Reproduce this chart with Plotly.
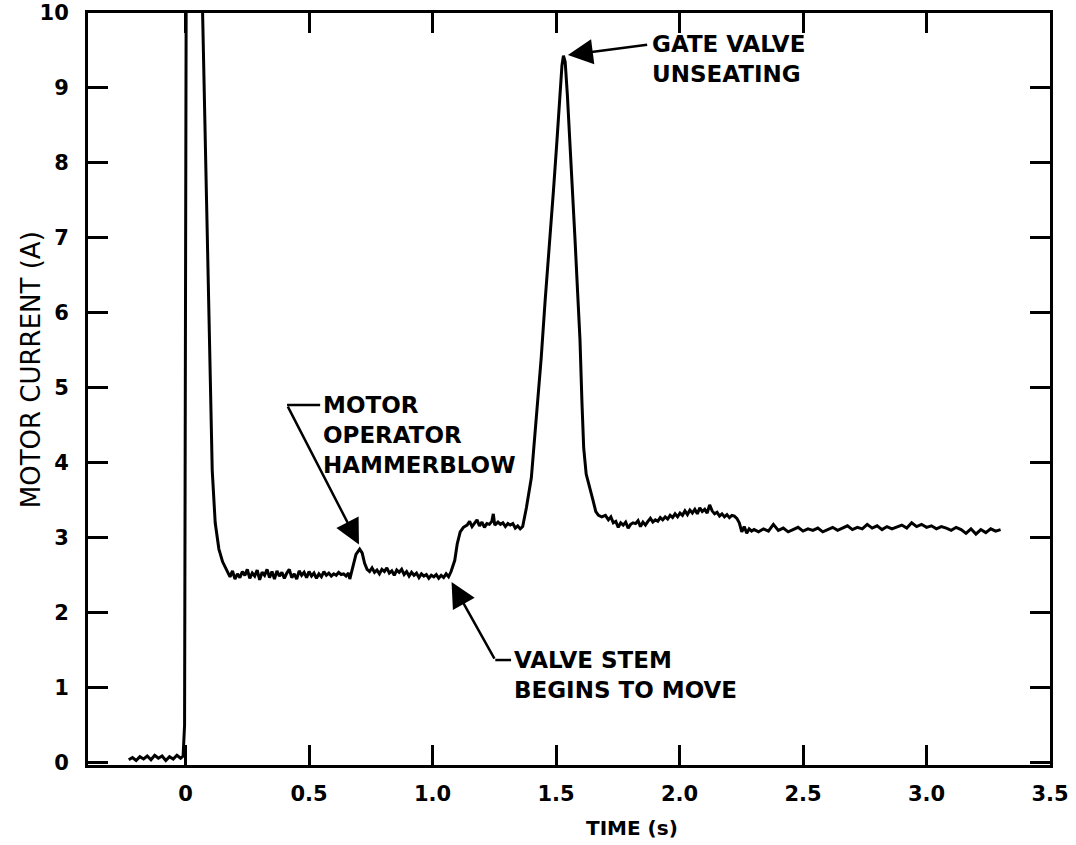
import plotly.graph_objects as go

# ---------------- data ----------------
time_s = [
    -0.230, -0.215, -0.200, -0.185, -0.170, -0.155, -0.140, -0.125, -0.110, -0.095,
    -0.080, -0.065, -0.050, -0.035, -0.020, -0.010, -0.004, 0.004,
    0.058, 0.069, 0.085, 0.098, 0.108, 0.120, 0.135, 0.150, 0.165,
    0.180, 0.190, 0.200, 0.210, 0.220, 0.230, 0.240, 0.250, 0.260, 0.270,
    0.280, 0.290, 0.300, 0.310, 0.320, 0.330, 0.340, 0.350, 0.360, 0.370,
    0.380, 0.390, 0.400, 0.410, 0.420, 0.430, 0.440, 0.450, 0.460, 0.470,
    0.480, 0.490, 0.500, 0.510, 0.520, 0.530, 0.540, 0.550, 0.560, 0.570,
    0.580, 0.590, 0.600, 0.610, 0.620, 0.630, 0.640, 0.650, 0.660,
    0.665, 0.675, 0.690, 0.705, 0.715, 0.725, 0.735, 0.745, 0.755, 0.765,
    0.775, 0.785, 0.795, 0.805, 0.815, 0.825, 0.835, 0.845, 0.855, 0.865,
    0.875, 0.885, 0.895, 0.905, 0.915, 0.925, 0.935, 0.945, 0.955, 0.965,
    0.975, 0.985, 0.995, 1.005, 1.015, 1.025, 1.035, 1.045, 1.055, 1.065,
    1.075, 1.090, 1.100, 1.112, 1.125, 1.140, 1.150, 1.160, 1.170, 1.180,
    1.190, 1.200, 1.210, 1.220, 1.230, 1.240, 1.246, 1.252, 1.265, 1.275,
    1.285, 1.295, 1.305, 1.315, 1.325, 1.335, 1.345, 1.355,
    1.365, 1.380, 1.400, 1.420, 1.440, 1.456, 1.476, 1.490, 1.504, 1.516,
    1.524, 1.530, 1.537, 1.546, 1.556, 1.567, 1.577, 1.587, 1.597, 1.605,
    1.612, 1.622, 1.637, 1.649, 1.661, 1.672,
    1.685, 1.700, 1.712, 1.722, 1.732, 1.742, 1.752, 1.762, 1.772, 1.782,
    1.792, 1.802, 1.812, 1.822, 1.832, 1.842, 1.852, 1.862, 1.872, 1.882,
    1.892, 1.902, 1.912, 1.922, 1.932, 1.942, 1.952, 1.962, 1.972, 1.982,
    1.992, 2.002, 2.012, 2.022, 2.032, 2.042, 2.052, 2.062, 2.072, 2.082,
    2.092, 2.102, 2.112, 2.122, 2.132, 2.142, 2.152, 2.162, 2.172, 2.182,
    2.192, 2.202, 2.212, 2.222, 2.232, 2.242, 2.252, 2.262, 2.272, 2.282,
    2.292, 2.302,
    2.32, 2.34, 2.36, 2.38, 2.40, 2.42, 2.44, 2.46, 2.48, 2.50,
    2.52, 2.54, 2.56, 2.58, 2.60, 2.62, 2.64, 2.66, 2.68, 2.70,
    2.72, 2.74, 2.76, 2.78, 2.80, 2.82, 2.84, 2.86, 2.88, 2.90,
    2.92, 2.94, 2.96, 2.98, 3.00, 3.02, 3.04, 3.06, 3.08, 3.10,
    3.12, 3.14, 3.16, 3.18, 3.20, 3.22, 3.24, 3.26, 3.28, 3.30,
]

current_a = [
    0.04, 0.07, 0.03, 0.08, 0.05, 0.09, 0.04, 0.10, 0.06, 0.09,
    0.03, 0.08, 0.05, 0.10, 0.06, 0.09, 0.50, 12.5,
    12.5, 10.0, 7.5, 5.3, 3.9, 3.2, 2.85, 2.68, 2.58,
    2.48, 2.56, 2.45, 2.52, 2.47, 2.55, 2.50, 2.58, 2.46, 2.53,
    2.49, 2.57, 2.44, 2.54, 2.50, 2.58, 2.47, 2.55, 2.45, 2.56,
    2.49, 2.54, 2.46, 2.53, 2.58, 2.47, 2.52, 2.45, 2.56, 2.50,
    2.54, 2.47, 2.55, 2.49, 2.53, 2.46, 2.52, 2.48, 2.55, 2.50,
    2.53, 2.49, 2.52, 2.50, 2.54, 2.51, 2.52, 2.49, 2.53,
    2.45, 2.60, 2.78, 2.85, 2.80, 2.66, 2.58, 2.55, 2.60, 2.54,
    2.57, 2.52, 2.58, 2.55, 2.60, 2.53, 2.56, 2.50, 2.57, 2.54,
    2.58, 2.51, 2.55, 2.49, 2.54, 2.50, 2.53, 2.47, 2.52, 2.49,
    2.51, 2.46, 2.50, 2.48, 2.51, 2.46, 2.50, 2.47, 2.52, 2.48,
    2.55, 2.70, 2.92, 3.08, 3.14, 3.17, 3.22, 3.15, 3.20, 3.24,
    3.16, 3.21, 3.14, 3.19, 3.18, 3.22, 3.32, 3.17, 3.21, 3.18,
    3.20, 3.15, 3.19, 3.17, 3.19, 3.13, 3.16, 3.12,
    3.15, 3.40, 3.80, 4.60, 5.40, 6.17, 6.97, 7.65, 8.31, 8.95,
    9.30, 9.43, 9.35, 8.90, 8.31, 7.65, 6.97, 6.30, 5.64, 4.80,
    4.20, 3.85, 3.64, 3.51, 3.35, 3.30,
    3.28, 3.30, 3.24, 3.28, 3.20, 3.22, 3.14, 3.20, 3.17, 3.21,
    3.13, 3.18, 3.20, 3.19, 3.23, 3.15, 3.21, 3.17, 3.22, 3.26,
    3.21, 3.24, 3.22, 3.27, 3.24, 3.28, 3.25, 3.30, 3.27, 3.32,
    3.28, 3.33, 3.30, 3.36, 3.31, 3.37, 3.33, 3.38, 3.32, 3.40,
    3.35, 3.38, 3.33, 3.44, 3.36, 3.32, 3.34, 3.29, 3.32, 3.28,
    3.31, 3.27, 3.30, 3.29, 3.26, 3.20, 3.08, 3.15, 3.06, 3.12,
    3.09, 3.11,
    3.08, 3.12, 3.09, 3.18, 3.10, 3.13, 3.08, 3.11, 3.14, 3.09,
    3.12, 3.10, 3.13, 3.08, 3.11, 3.14, 3.10, 3.13, 3.16, 3.11,
    3.14, 3.12, 3.18, 3.13, 3.16, 3.11, 3.15, 3.12, 3.14, 3.17,
    3.13, 3.20, 3.15, 3.18, 3.14, 3.16, 3.12, 3.15, 3.13, 3.10,
    3.14, 3.11, 3.06, 3.12, 3.05, 3.11, 3.07, 3.12, 3.09, 3.11,
]

x_tick_vals = [0, 0.5, 1.0, 1.5, 2.0, 2.5, 3.0, 3.5]
x_tick_text = ["0", "0.5", "1.0", "1.5", "2.0", "2.5", "3.0", "3.5"]
y_tick_vals = [0, 1, 2, 3, 4, 5, 6, 7, 8, 9, 10]
y_tick_text = ["0", "1", "2", "3", "4", "5", "6", "7", "8", "9", "10"]

label_hammer = "MOTOR<br>OPERATOR<br>HAMMERBLOW"
label_stem = "VALVE STEM<br>BEGINS TO MOVE"
label_gate = "GATE VALVE<br>UNSEATING"
x_title = "TIME (s)"
y_title = "MOTOR CURRENT (A)"

# ---------------- figure ----------------
FONT = "DejaVu Sans"
tick_font = dict(family=FONT, size=21, color="black", weight="bold")
note_font = dict(family=FONT, size=23, color="black", weight="bold")

fig = go.Figure()
fig.add_trace(go.Scatter(
    x=time_s, y=current_a, mode="lines",
    line=dict(color="black", width=3), hoverinfo="skip",
))

axis_common = dict(
    showline=True, linewidth=3, linecolor="black", mirror="allticks",
    ticks="inside", ticklen=20, tickwidth=2.5, tickcolor="black",
    showgrid=False, zeroline=False, tickfont=tick_font, automargin=False,
)
fig.update_xaxes(range=[-0.395, 3.5], tickvals=x_tick_vals, ticktext=x_tick_text,
                 ticklabelstandoff=8, **axis_common)
fig.update_yaxes(range=[-0.03, 10], tickvals=y_tick_vals, ticktext=y_tick_text,
                 ticklabelstandoff=12, **axis_common)

fig.update_layout(
    width=1076, height=845,
    margin=dict(l=88, r=26, t=13, b=80),
    plot_bgcolor="white", paper_bgcolor="white",
    showlegend=False,
)

arrow_style = dict(showarrow=True, arrowhead=2, arrowsize=2.0, arrowwidth=2.5,
                   arrowcolor="black", axref="x", ayref="y", text="", standoff=0)

# Gate valve unseating
fig.add_annotation(x=1.548, y=9.44, ax=1.875, ay=9.58, **arrow_style)
fig.add_annotation(x=1.88, y=9.58, text=label_gate, showarrow=False,
                   xanchor="left", yanchor="top", yshift=15, align="left", font=note_font)

# Motor operator hammerblow
fig.add_annotation(x=0.702, y=2.91, ax=0.411, ay=4.77, **arrow_style)
fig.add_shape(type="line", x0=0.411, y0=4.77, x1=0.545, y1=4.77,
              line=dict(color="black", width=2.5))
fig.add_annotation(x=0.548, y=4.77, text=label_hammer, showarrow=False,
                   xanchor="left", yanchor="top", yshift=15, align="left", font=note_font)

# Valve stem begins to move
fig.add_annotation(x=1.077, y=2.41, ax=1.254, ay=1.37, **arrow_style)
fig.add_shape(type="line", x0=1.254, y0=1.37, x1=1.318, y1=1.37,
              line=dict(color="black", width=2.5))
fig.add_annotation(x=1.322, y=1.37, text=label_stem, showarrow=False,
                   xanchor="left", yanchor="top", yshift=15, align="left", font=note_font)

# Axis titles
fig.add_annotation(x=0.565, y=0, xref="paper", yref="paper", text=x_title,
                   showarrow=False, xanchor="center", yanchor="middle", yshift=-63,
                   font=dict(family=FONT, size=20, color="black", weight="bold"))
fig.add_annotation(x=0, y=0.525, xref="paper", yref="paper", text=y_title, textangle=-90,
                   showarrow=False, xanchor="center", yanchor="middle", xshift=-57,
                   font=dict(family=FONT, size=26, color="black"))

fig.write_html("out.html")
